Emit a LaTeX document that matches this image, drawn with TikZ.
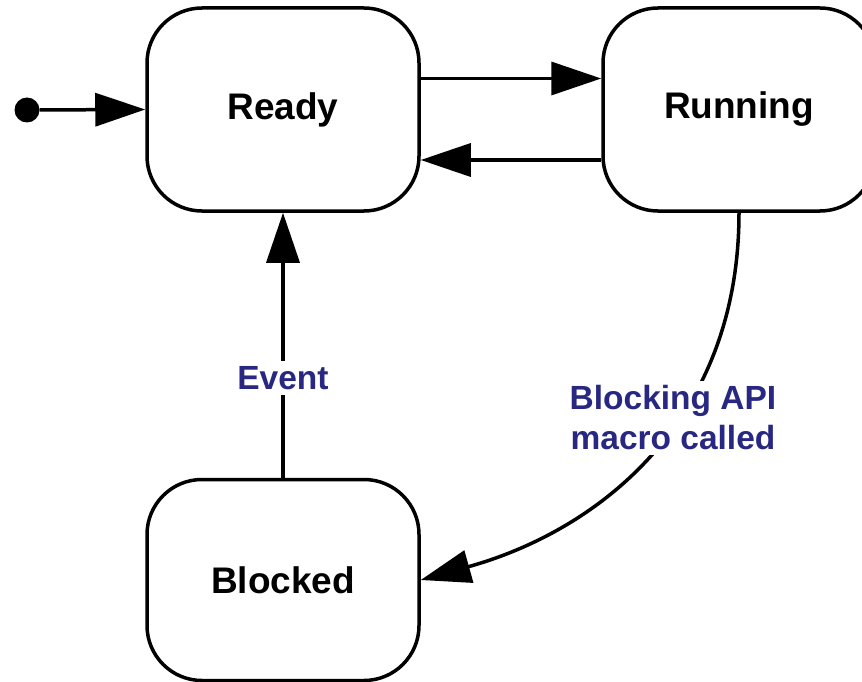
\documentclass[tikz,border=0pt]{standalone}
\usepackage{fontspec}
\setmainfont{Liberation Sans}
\usetikzlibrary{arrows.meta}
\definecolor{lblblue}{RGB}{40,40,130}
\begin{document}
\begin{tikzpicture}[x=1pt,y=-1pt,
  state/.style={draw=black, fill=white, line width=3.5pt, rounded corners=55pt,
    minimum width=272pt, minimum height=203pt, inner sep=0pt,
    font=\fontsize{37}{44}\selectfont\bfseries},
  arr/.style={line width=3.5pt, -{Triangle[length=50pt,width=33pt]}},
  lbl/.style={fill=white, text=lblblue, inner sep=5pt, align=center,
    font=\fontsize{33.5}{40}\selectfont\bfseries}]
\path[use as bounding box, clip] (0,0) rectangle (862,682);
\fill[white] (0,0) rectangle (862,682);
\node[state] (ready) at (283,109.5) {Ready};
\node[state] (running) at (739,109.5) {Running};
\node[state, minimum height=201pt] (blocked) at (283,580) {Blocked};
\node[circle, fill=black, minimum size=25pt, inner sep=0pt] (init) at (27,110) {};
\draw[arr] (init) -- (ready.west);
\draw[arr] ([yshift=31pt]ready.east) -- ([yshift=31pt]running.west);
\draw[arr] ([yshift=-50.5pt]running.west) -- ([yshift=-50.5pt]ready.east);
\draw[arr] (blocked.north) -- (ready.south);
\node[lbl] (ev) at (283,378) {Event};
\draw[arr] (running.south) .. controls (739,420) and (600,530) .. (blocked.east);
\node[lbl] (blk) at (673,418) {Blocking API\\macro called};
\end{tikzpicture}
\end{document}
